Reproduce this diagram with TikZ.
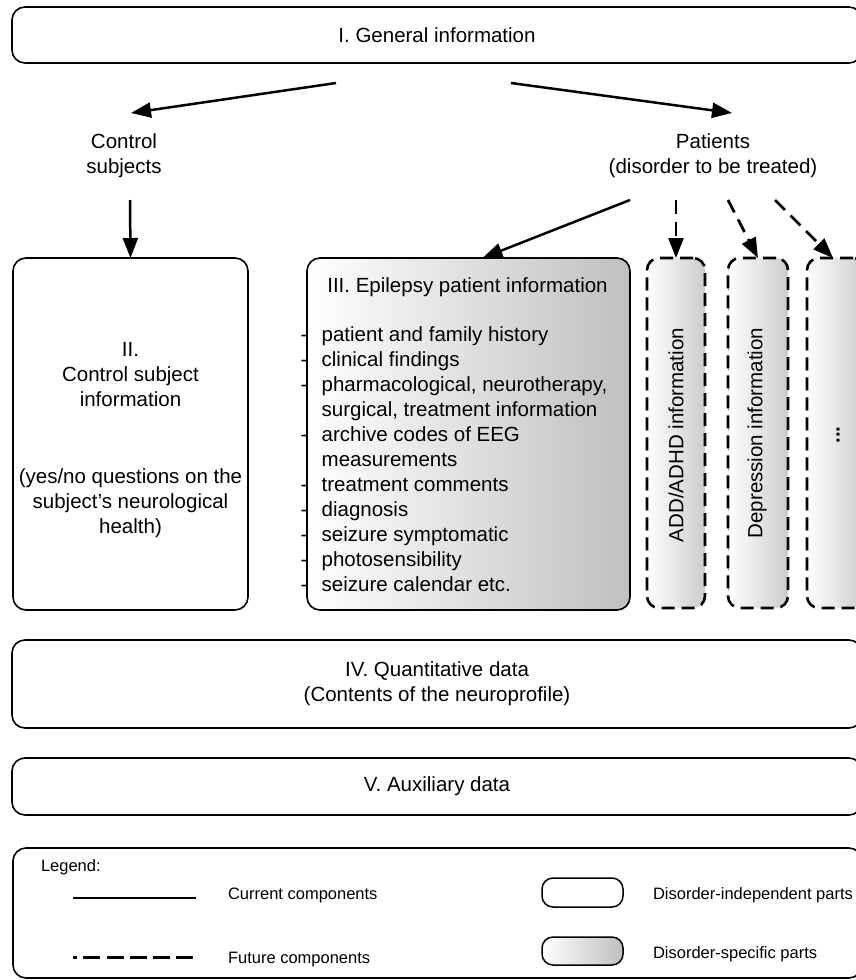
\documentclass[tikz,border=0pt]{standalone}
\usepackage{fontspec}
\setmainfont{Liberation Sans}
\usetikzlibrary{arrows.meta,calc}

% list item with a fixed-width leading dash
\newcommand{\dashitem}{\makebox[21pt][l]{-}}
\newcommand{\dashcont}{\hspace*{21pt}}

\begin{document}
\begin{tikzpicture}[x=1pt,y=-1pt,
  every node/.style={inner sep=0pt, outer sep=0pt, font=\fontsize{20.5}{25}\selectfont},
  plainbox/.style={draw, line width=1.6pt, rounded corners=13pt, fill=white},
  specbox/.style={draw, line width=1.6pt, rounded corners=13pt, left color=white, right color=gray!50},
  futbox/.style={draw, line width=2.6pt, rounded corners=12pt, dash pattern=on 13pt off 7pt,
    left color=white, right color=gray!40,
    path picture={\draw[gray!60, line width=0.6pt]
      ([xshift=0.4pt]path picture bounding box.north west) -- ([xshift=0.4pt]path picture bounding box.south west);}},
  arr/.style={line width=2.5pt, -{Triangle[length=20pt,width=15pt]}},
  futarr/.style={arr, line width=2.8pt, dash pattern=on 14pt off 8pt},
  legtext/.style={font=\fontsize{16.5}{19}\selectfont, anchor=base west}
]
\path[use as bounding box] (0,0) rectangle (856,980);
\clip (0,0) rectangle (856,980);

% top level
\node[plainbox, minimum width=850pt, minimum height=56pt] (gen) at (437,35) {I. General information};
\node[align=center] (ctrl) at (124,156) {Control\\subjects};
\node[align=center] (pat) at (713,156) {Patients\\(disorder to be treated)};

% control subject block
\node[plainbox, minimum width=235pt, minimum height=352pt] (ctl) at (130.5,434) {};
\node[align=center] (ctltext) at (130.5,440) {II.\\Control subject\\information\\[52pt](yes/no questions on the\\subject's neurological\\health)};

% epilepsy block
\node[specbox, minimum width=323pt, minimum height=352pt] (epi) at (468.5,434) {};
\node[anchor=base] (epititle) at (467.5,292) {III. Epilepsy patient information};
\node[anchor=base west, align=left] (epilist) at (300.7,591) {%
\dashitem patient and family history\\
\dashitem clinical findings\\
\dashitem pharmacological, neurotherapy,\\
\dashcont surgical, treatment information\\
\dashitem archive codes of EEG\\
\dashcont measurements\\
\dashitem treatment comments\\
\dashitem diagnosis\\
\dashitem seizure symptomatic\\
\dashitem photosensibility\\
\dashitem seizure calendar etc.};

% future disorder blocks
\node[futbox, minimum width=58pt, minimum height=350pt] (add) at (676,433) {};
\node[rotate=90] (addtext) at (676,435) {ADD/ADHD information};
\node[futbox, minimum width=60pt, minimum height=350pt] (dep) at (758,433) {};
\node[rotate=90] (deptext) at (757,433) {Depression information};
\node[futbox, minimum width=58pt, minimum height=350pt] (more) at (836,433) {};
\node[rotate=90] (moretext) at (838,435) {\textbf{...}};

% common data blocks
\node[plainbox, minimum width=850pt, minimum height=88pt, align=center] (quant) at (437,684) {IV. Quantitative data\\(Contents of the neuroprofile)};
\node[plainbox, minimum width=850pt, minimum height=57pt] (aux) at (437,786.5) {V. Auxiliary data};

% connectors
\draw[arr] ($(gen.south)+(-101,20)$) -- ($(ctrl.center)+(7,-43)$);
\draw[arr] ($(gen.south)+(74,20)$) -- ($(pat.center)+(19,-43)$);
\draw[arr] ($(ctrl.center)+(6,44)$) -- (ctl.north);
\draw[arr] ($(pat.center)+(-83,44)$) -- ($(epi.north)+(14,0)$);
\draw[futarr] ($(pat.center)+(-37,44)$) -- (add.north);
\draw[futarr] ($(pat.center)+(15,44)$) -- (dep.north);
\draw[futarr] ($(pat.center)+(62,44)$) -- ($(more.north)+(-3,0)$);

% legend
\node[plainbox, minimum width=849pt, minimum height=130pt] (leg) at (437.5,913) {};
\node[legtext] (legtitle) at (41,871) {Legend:};
\coordinate (cur0) at (73,898);
\coordinate (cur1) at (196,898);
\draw[line width=2.2pt] (cur0) -- (cur1);
\coordinate (fut0) at (73,957);
\coordinate (fut1) at (196,957);
\draw[line width=3pt, dash pattern=on 17pt off 6.25pt, dash phase=13pt] (fut0) -- (fut1);
\node[legtext] (curtext) at (228,899) {Current components};
\node[legtext] (futtext) at (228,963) {Future components};
\node[plainbox, rounded corners=11pt, line width=1.5pt, minimum width=81pt, minimum height=29pt] (indep) at (582.5,892.5) {};
\node[specbox, rounded corners=11pt, line width=1.5pt, minimum width=81pt, minimum height=28pt] (spec) at (582.5,951) {};
\node[legtext] (indeptext) at (653,899) {Disorder-independent parts};
\node[legtext] (spectext) at (653,958) {Disorder-specific parts};
\end{tikzpicture}
\end{document}
